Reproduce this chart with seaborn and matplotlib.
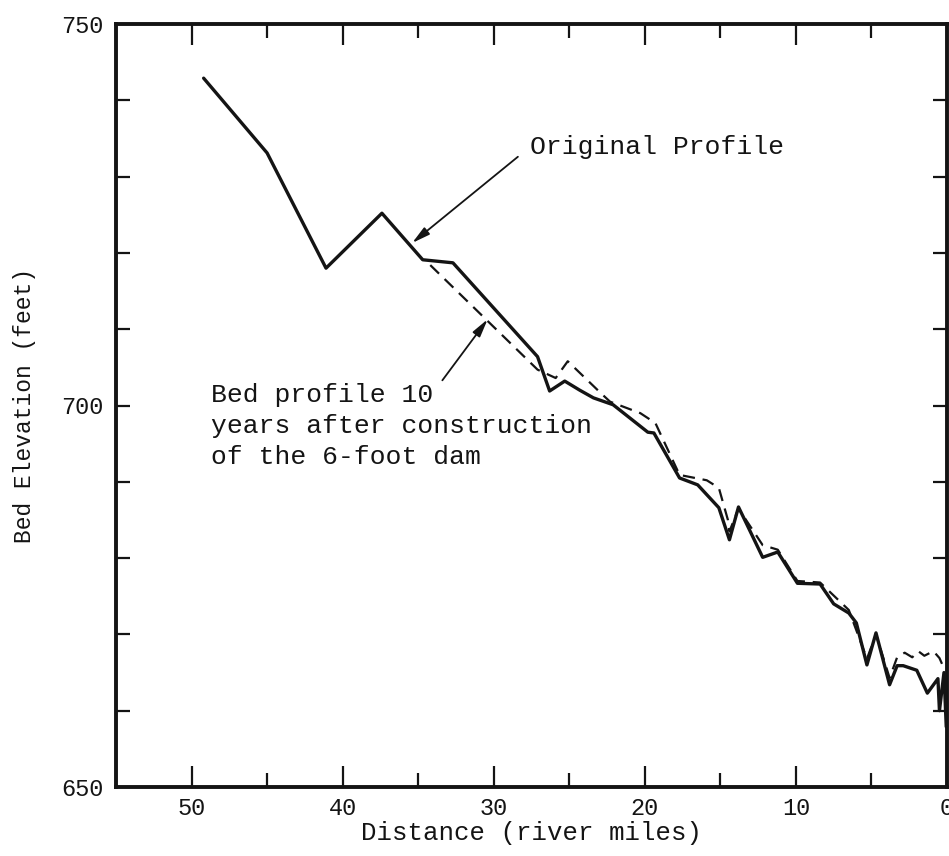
import matplotlib
matplotlib.use("Agg")
import matplotlib.pyplot as plt
import seaborn as sns
import pandas as pd
from matplotlib.ticker import MultipleLocator, FixedLocator

# River profile: distance upstream of the dam (river miles) and bed elevation (feet)
orig_miles = [49.2, 45.0, 41.1, 37.4, 34.7, 32.7, 27.1, 26.3, 25.3, 24.3, 23.4, 22.1,
              19.8, 19.4, 17.7, 16.5, 15.1, 14.4, 13.8, 12.2, 11.2, 9.9, 8.4, 7.5,
              6.5, 6.0, 5.3, 4.7, 3.8, 3.3, 2.9, 2.0, 1.3, 0.6, 0.5, 0.2, 0.05]
orig_elev = [742.9, 733.1, 718.0, 725.2, 719.1, 718.7, 706.4, 701.9, 703.2, 702.0, 701.0, 700.1,
             696.5, 696.4, 690.5, 689.6, 686.6, 682.4, 686.7, 680.1, 680.8, 676.7, 676.6, 674.0,
             672.8, 671.5, 666.0, 670.2, 663.4, 665.9, 665.9, 665.3, 662.3, 664.2, 660.0, 665.0, 657.9]

after_miles = [34.2, 27.1, 25.9, 25.1, 22.9, 22.3, 20.3, 19.3, 17.7, 15.9, 15.1, 14.5,
               14.4, 13.8, 12.2, 11.2, 9.9, 8.4, 6.5, 5.3, 4.7, 3.8, 3.3, 2.8,
               2.3, 1.9, 1.5, 0.9, 0.5, 0.3]
after_elev = [718.4, 704.7, 703.6, 705.8, 701.6, 700.5, 699.0, 697.7, 690.9, 690.2, 689.2, 685.0,
              683.5, 686.5, 681.7, 681.1, 677.0, 676.8, 673.2, 666.8, 670.0, 664.3, 667.0, 667.6,
              667.0, 667.8, 667.2, 667.8, 666.9, 666.0]

x_major = [50, 40, 30, 20, 10, 0]
y_labels = [650, 700, 750]

original = pd.DataFrame({"miles": orig_miles, "elev": orig_elev})
after = pd.DataFrame({"miles": after_miles, "elev": after_elev})

sns.set_theme(style="ticks")
mono = "Liberation Mono"
plt.rcParams["font.family"] = [mono, "DejaVu Sans"]

fig = plt.figure(figsize=(9.49, 8.56), dpi=100)
ax = fig.add_axes([116 / 949, 1 - 787 / 856, (947 - 116) / 949, (787 - 24) / 856])

ink = "#141414"
sns.lineplot(data=original, x="miles", y="elev", sort=False, estimator=None,
             color=ink, lw=2.4, ax=ax)
sns.lineplot(data=after, x="miles", y="elev", sort=False, estimator=None,
             color=ink, lw=1.6, ls=(0, (5.5, 3.5)), ax=ax)

ax.set_xlim(55, 0)
ax.set_ylim(650, 750)

ax.xaxis.set_major_locator(FixedLocator(x_major))
ax.xaxis.set_minor_locator(MultipleLocator(5))
ax.yaxis.set_major_locator(FixedLocator(y_labels))
ax.yaxis.set_minor_locator(MultipleLocator(10))

ax.tick_params(axis="both", which="both", direction="in", colors=ink,
               top=True, right=True, width=1.6)
ax.tick_params(axis="x", which="major", length=15, pad=7, labelsize=17)
ax.tick_params(axis="x", which="minor", length=10)
ax.tick_params(axis="y", which="both", length=10, pad=9, labelsize=17)

for side in ["left", "right", "top", "bottom"]:
    ax.spines[side].set_linewidth(2.8)
    ax.spines[side].set_color(ink)

ax.set_xlabel("Distance (river miles)", fontsize=18.5, color=ink)
ax.set_ylabel("Bed Elevation (feet)", fontsize=16.5, color=ink)
ax.xaxis.set_label_coords(0.5, -0.06)
ax.xaxis.label.set_va("center")
ax.yaxis.set_label_coords(-0.11, 0.5)
ax.yaxis.label.set_va("center")

arrow = dict(arrowstyle="-|>,head_length=0.9,head_width=0.22", color=ink, lw=1.3,
             shrinkA=0, shrinkB=0)

ax.text(27.6, 733.9, "Original Profile", fontsize=19, color=ink,
        ha="left", va="center")
ax.annotate("", xy=(35.4, 721.3), xytext=(28.4, 732.6), arrowprops=arrow)

ax.text(48.7, 697.3, "Bed profile 10\nyears after construction\nof the 6-foot dam",
        fontsize=19, color=ink, ha="left", va="center", linespacing=1.38)
ax.annotate("", xy=(30.4, 711.3), xytext=(33.4, 703.3), arrowprops=arrow)

fig.savefig("out.png", dpi=100, facecolor="white")
